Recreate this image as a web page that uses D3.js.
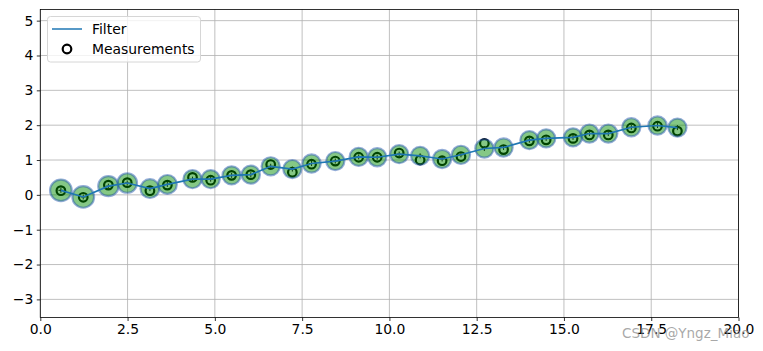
<!DOCTYPE html>
<html>
<head>
<meta charset="utf-8">
<script src="https://cdn.jsdelivr.net/npm/d3@7"></script>
<style>
  body { margin: 0; background: #fff; }
  svg { display: block; font-family: "DejaVu Sans", sans-serif; }
</style>
</head>
<body>
<svg id="chart" width="763" height="351"></svg>
<script>
// time steps (x), filter estimates, measurements, and std dev of the covariance
const xs = [0.59, 1.23, 1.95, 2.49, 3.14, 3.64, 4.36, 4.88, 5.48, 6.03,
            6.6, 7.22, 7.77, 8.45, 9.12, 9.65, 10.28, 10.88, 11.51, 12.05,
            12.72, 13.27, 14.01, 14.49, 15.26, 15.73, 16.27, 16.93, 17.68, 18.25];
const filterY = [0.13, -0.06, 0.25, 0.34, 0.18, 0.3, 0.45, 0.45, 0.56, 0.58,
                 0.82, 0.74, 0.9, 0.97, 1.09, 1.08, 1.17, 1.12, 1.03, 1.15,
                 1.33, 1.36, 1.57, 1.62, 1.65, 1.76, 1.76, 1.94, 1.99, 1.93];
const measY = [0.12, -0.07, 0.28, 0.35, 0.12, 0.28, 0.5, 0.42, 0.56, 0.58,
               0.87, 0.65, 0.88, 0.97, 1.08, 1.08, 1.2, 1.0, 0.98, 1.1,
               1.48, 1.3, 1.55, 1.58, 1.62, 1.72, 1.72, 1.92, 1.97, 1.83];
const stdDev = [0.31, 0.31, 0.29, 0.28, 0.27, 0.27, 0.26, 0.26, 0.26, 0.26,
                0.26, 0.26, 0.26, 0.26, 0.26, 0.26, 0.26, 0.26, 0.26, 0.26,
                0.26, 0.26, 0.26, 0.26, 0.26, 0.26, 0.26, 0.26, 0.26, 0.26];
const xTicks = [0, 2.5, 5, 7.5, 10, 12.5, 15, 17.5, 20];
const yTicks = [-3, -2, -1, 0, 1, 2, 3, 4, 5];
const legendLabels = ["Filter", "Measurements"];

const svg = d3.select("#chart");
const mLeft = 40.3, mRight = 738.5, mTop = 9.5, mBottom = 317.5;

const x = d3.scaleLinear().domain([0, 20]).range([mLeft, mRight]);
const y = d3.scaleLinear().domain([-3.52, 5.32]).range([mBottom, mTop]);

const fmt = d => d.toFixed(1);
const minus = d => String(d).replace("-", "\u2212");

// grid
svg.append("g")
  .selectAll("line")
  .data(xTicks)
  .enter().append("line")
  .attr("x1", d => x(d)).attr("x2", d => x(d))
  .attr("y1", mTop).attr("y2", mBottom)
  .attr("stroke", "#b0b0b0").attr("stroke-width", 0.8);
svg.append("g")
  .selectAll("line")
  .data(yTicks)
  .enter().append("line")
  .attr("x1", mLeft).attr("x2", mRight)
  .attr("y1", d => y(d)).attr("y2", d => y(d))
  .attr("stroke", "#b0b0b0").attr("stroke-width", 0.8);

const pts = xs.map((d, i) => ({ x: d, f: filterY[i], m: measY[i], s: stdDev[i] }));

// measurements (drawn first, the ellipses sit on top)
svg.append("g")
  .selectAll("circle")
  .data(pts)
  .enter().append("circle")
  .attr("cx", d => x(d.x)).attr("cy", d => y(d.m))
  .attr("r", 4.3)
  .attr("fill", "#fff")
  .attr("stroke", "#000").attr("stroke-width", 2.2);

// covariance ellipses
svg.append("g")
  .selectAll("ellipse")
  .data(pts)
  .enter().append("ellipse")
  .attr("cx", d => x(d.x)).attr("cy", d => y(d.f))
  .attr("rx", d => x(d.s) - x(0))
  .attr("ry", d => y(0) - y(d.s))
  .attr("fill", "rgba(0,140,0,0.48)")
  .attr("stroke", "rgba(40,90,175,0.5)").attr("stroke-width", 2.2);

// ellipse centres
svg.append("g")
  .selectAll("path")
  .data(pts)
  .enter().append("path")
  .attr("d", d => `M${x(d.x) - 2.5},${y(d.f)}h5M${x(d.x)},${y(d.f) - 2.5}v5`)
  .attr("stroke", "#0b3d0b").attr("stroke-width", 1);

// filter line
svg.append("path")
  .datum(pts)
  .attr("fill", "none")
  .attr("stroke", "#1f77b4").attr("stroke-width", 1.7)
  .attr("d", d3.line().x(d => x(d.x)).y(d => y(d.f)));

// axes
const xAxis = svg.append("g")
  .attr("transform", `translate(0,${mBottom})`)
  .call(d3.axisBottom(x).tickValues(xTicks).tickFormat(fmt).tickSize(3.5).tickPadding(3.5));
const yAxis = svg.append("g")
  .attr("transform", `translate(${mLeft},0)`)
  .call(d3.axisLeft(y).tickValues(yTicks).tickFormat(minus).tickSize(3.5).tickPadding(3.5));
[xAxis, yAxis].forEach(a => {
  a.select(".domain").remove();
  a.selectAll("line").attr("stroke", "#000").attr("stroke-width", 0.8);
  a.selectAll("text").attr("fill", "#000")
    .style("font-family", "'DejaVu Sans', sans-serif").style("font-size", "13.9px");
});

svg.append("rect")
  .attr("x", mLeft).attr("y", mTop)
  .attr("width", mRight - mLeft).attr("height", mBottom - mTop)
  .attr("fill", "none").attr("stroke", "#000").attr("stroke-width", 0.8);

// legend
const lg = svg.append("g");
lg.append("rect")
  .attr("x", 47.5).attr("y", 16.5).attr("width", 153).attr("height", 45.5)
  .attr("rx", 3)
  .attr("fill", "rgba(255,255,255,0.8)")
  .attr("stroke", "#d6d6d6").attr("stroke-width", 1);
lg.append("line")
  .attr("x1", 52).attr("x2", 82).attr("y1", 29).attr("y2", 29)
  .attr("stroke", "#1f77b4").attr("stroke-width", 1.5);
lg.append("circle")
  .attr("cx", 67).attr("cy", 49).attr("r", 4.3)
  .attr("fill", "#fff").attr("stroke", "#000").attr("stroke-width", 2.2);
lg.selectAll("text")
  .data(legendLabels)
  .enter().append("text")
  .attr("x", 92).attr("y", (d, i) => 34 + i * 20)
  .style("font-size", "13.9px")
  .text(d => d);

// watermark (overlaps the last tick labels, as in the source image)
svg.append("text")
  .attr("x", 622).attr("y", 338)
  .attr("fill", "rgba(140,140,140,0.75)")
  .style("font-size", "13.5px")
  .text("CSDN @Yngz_Miao");
</script>
</body>
</html>
